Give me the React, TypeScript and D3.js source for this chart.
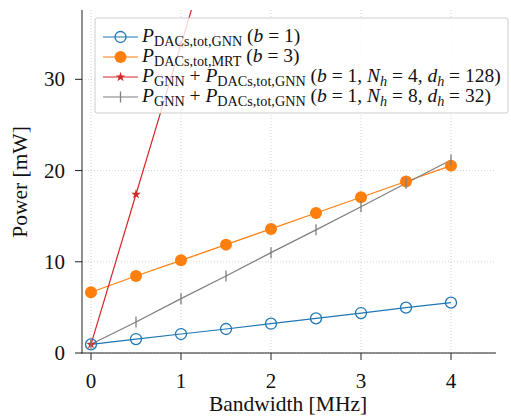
import React from "react";
import * as d3 from "d3";

// values
const bandwidth = [0, 0.5, 1, 1.5, 2, 2.5, 3, 3.5, 4];
const dacsGnn = [0.95, 1.53, 2.08, 2.63, 3.21, 3.8, 4.38, 4.97, 5.52];
const dacsMrt = [6.66, 8.44, 10.16, 11.88, 13.6, 15.35, 17.07, 18.8, 20.54];
const gnnHeads4 = [0.95, 17.4, 33.8, 50.3, 66.7, 83.2, 99.6, 116.1, 132.5];
const gnnHeads8 = [0.95, 3.4, 5.96, 8.44, 11.0, 13.5, 16.04, 18.6, 21.16];
const xTicks = [0, 1, 2, 3, 4];
const yTicks = [0, 10, 20, 30];

const serif = { fontFamily: '"Liberation Serif"' };

const margin = { left: 82, right: 496, top: 10, bottom: 353 };

const x = d3.scaleLinear().domain([-0.1, 4.5]).range([margin.left, margin.right]);
const y = d3.scaleLinear().domain([0, 37.6]).range([margin.bottom, margin.top]);

type Marker = "open" | "dot" | "star" | "vbar";

const series: { values: number[]; color: string; marker: Marker }[] = [
  { values: dacsGnn, color: "#1f77b4", marker: "open" },
  { values: dacsMrt, color: "#ff7f0e", marker: "dot" },
  { values: gnnHeads4, color: "#d62728", marker: "star" },
  { values: gnnHeads8, color: "#7f7f7f", marker: "vbar" },
];

const starPath = d3.symbol().type(d3.symbolStar).size(30)();

function drawMarker(m: Marker, cx: number, cy: number, color: string, key: string) {
  if (m === "open")
    return <circle key={key} cx={cx} cy={cy} r={5.5} fill="none" stroke={color} strokeWidth={1.3} />;
  if (m === "dot") return <circle key={key} cx={cx} cy={cy} r={6} fill={color} />;
  if (m === "star")
    return <path key={key} d={starPath || ""} transform={`translate(${cx},${cy})`} fill={color} />;
  return <line key={key} x1={cx} x2={cx} y1={cy - 5.5} y2={cy + 5.5} stroke={color} strokeWidth={1.3} />;
}

const line = d3
  .line<number>()
  .x((_, i) => x(bandwidth[i]))
  .y((d) => y(d));

const Sub = ({ children, it }: { children: React.ReactNode; it?: boolean }) => (
  <tspan fontSize={14.2} dy={3.5} fontStyle={it ? "italic" : "normal"}>
    {children}
  </tspan>
);

function legendText(i: number) {
  const P = <tspan fontStyle="italic">P</tspan>;
  const b = <tspan fontStyle="italic">b</tspan>;
  if (i === 0)
    return (
      <>
        {P}<Sub>DACs,tot,GNN</Sub><tspan dy={-3.5}> (</tspan>{b}<tspan> = 1)</tspan>
      </>
    );
  if (i === 1)
    return (
      <>
        {P}<Sub>DACs,tot,MRT</Sub><tspan dy={-3.5}> (</tspan>{b}<tspan> = 3)</tspan>
      </>
    );
  const nh = i === 2 ? "4" : "8";
  const dh = i === 2 ? "128" : "32";
  return (
    <>
      {P}<Sub>GNN</Sub><tspan dy={-3.5}> + </tspan>{P}<Sub>DACs,tot,GNN</Sub>
      <tspan dy={-3.5}> (</tspan>{b}<tspan> = 1, </tspan>
      <tspan fontStyle="italic">N</tspan><Sub it>h</Sub><tspan dy={-3.5}> = {nh}, </tspan>
      <tspan fontStyle="italic">d</tspan><Sub it>h</Sub><tspan dy={-3.5}> = {dh})</tspan>
    </>
  );
}

export default function App() {
  const legendY = [37, 57, 77, 97];
  return (
    <svg width={511} height={418} style={{ position: "absolute", left: 0, top: 0, background: "#fff" }}>
      <defs>
        <clipPath id="plot">
          <rect x={margin.left} y={margin.top} width={margin.right - margin.left} height={margin.bottom - margin.top} />
        </clipPath>
      </defs>

      {/* grid */}
      <g stroke="#c8c8c8" strokeWidth={0.8} strokeDasharray="1,2">
        {xTicks.map((t) => (
          <line key={"gx" + t} x1={x(t)} x2={x(t)} y1={margin.top} y2={margin.bottom} />
        ))}
        {yTicks.map((t) => (
          <line key={"gy" + t} x1={margin.left} x2={margin.right} y1={y(t)} y2={y(t)} />
        ))}
      </g>

      {/* series */}
      <g clipPath="url(#plot)">
        {series.map((s, si) => (
          <path key={si} d={line(s.values) || ""} fill="none" stroke={s.color} strokeWidth={1.2} />
        ))}
        {series.map((s, si) => (
          <g key={"m" + si}>
            {s.values.map((v, i) => drawMarker(s.marker, x(bandwidth[i]), y(v), s.color, `${si}-${i}`))}
          </g>
        ))}
      </g>

      {/* spines */}
      <line x1={margin.left} x2={margin.left} y1={margin.top} y2={margin.bottom + 0.5} stroke="#222" strokeWidth={1} />
      <line x1={margin.left - 0.5} x2={margin.right} y1={margin.bottom} y2={margin.bottom} stroke="#222" strokeWidth={1} />

      {/* ticks */}
      {xTicks.map((t) => (
        <g key={"xt" + t}>
          <line x1={x(t)} x2={x(t)} y1={margin.bottom} y2={margin.bottom + 7} stroke="#222" />
          <text x={x(t)} y={388} fontSize={21} textAnchor="middle" fill="#111" style={serif}>
            {t}
          </text>
        </g>
      ))}
      {yTicks.map((t) => (
        <g key={"yt" + t}>
          <line x1={margin.left - 7} x2={margin.left} y1={y(t)} y2={y(t)} stroke="#222" />
          <text x={65} y={y(t) + 7} fontSize={21} textAnchor="end" fill="#111" style={serif}>
            {t}
          </text>
        </g>
      ))}

      {/* axis labels */}
      <text x={288} y={411} fontSize={21.5} textAnchor="middle" fill="#111" style={serif}>
        Bandwidth [MHz]
      </text>
      <text transform="translate(27,182) rotate(-90)" fontSize={21.5} textAnchor="middle" fill="#111" style={serif}>
        Power [mW]
      </text>

      {/* legend */}
      <rect x={95} y={18} width={413} height={95} rx={2} fill="#fff" fillOpacity={0.8} stroke="#ccc" strokeWidth={1} />
      {series.map((s, i) => (
        <g key={"lg" + i}>
          <line x1={103} x2={138} y1={legendY[i]} y2={legendY[i]} stroke={s.color} strokeWidth={1.2} />
          {drawMarker(s.marker, 120.5, legendY[i], s.color, "lm" + i)}
          <text x={142} y={legendY[i] + 5} fontSize={19.5} fill="#111" style={serif}>
            {legendText(i)}
          </text>
        </g>
      ))}
    </svg>
  );
}
